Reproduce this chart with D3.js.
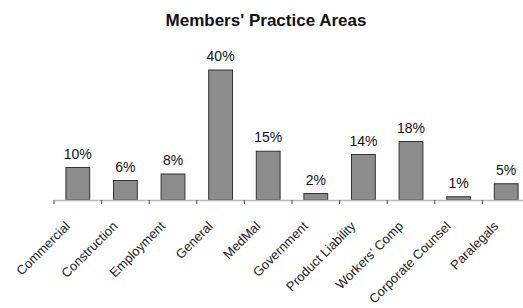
<!DOCTYPE html>
<html>
<head>
<meta charset="utf-8">
<script src="https://cdn.jsdelivr.net/npm/d3@7"></script>
<style>
  body { margin: 0; background: #fff; }
  svg { display: block; font-family: Arial, "Liberation Sans", sans-serif; }
</style>
</head>
<body>
<div id="chart"></div>
<script>
const categories = ["Commercial", "Construction", "Employment", "General", "MedMal",
  "Government", "Product Liability", "Workers' Comp", "Corporate Counsel", "Paralegals"];
const values = [10, 6, 8, 40, 15, 2, 14, 18, 1, 5];
const title = "Members' Practice Areas";

const width = 523, height = 308;
const axisY = 200;

const svg = d3.select("#chart").append("svg")
  .attr("width", width)
  .attr("height", height);

// --- scales ---
const x = d3.scaleBand()
  .domain(categories)
  .range([54, 530])
  .paddingInner(0.5)
  .paddingOuter(0.25);

const y = d3.scaleLinear()
  .domain([0, 40])
  .range([axisY, 70]);

// --- title ---
svg.append("text")
  .attr("x", 266)
  .attr("y", 26)
  .attr("text-anchor", "middle")
  .style("font-size", "17px")
  .style("font-weight", "bold")
  .style("fill", "#111")
  .text(title);

// --- bars ---
svg.selectAll(".bar")
  .data(values)
  .enter()
  .append("rect")
  .attr("class", "bar")
  .attr("x", (d, i) => x(categories[i]))
  .attr("y", d => y(d))
  .attr("width", x.bandwidth())
  .attr("height", d => axisY - y(d))
  .attr("fill", "#8c8c8c")
  .attr("stroke", "#333")
  .attr("stroke-width", 1);

// --- value labels ---
svg.selectAll(".val")
  .data(values)
  .enter()
  .append("text")
  .attr("class", "val")
  .attr("x", (d, i) => x(categories[i]) + x.bandwidth() / 2)
  .attr("y", d => y(d) - 9)
  .attr("text-anchor", "middle")
  .style("font-size", "14px")
  .style("fill", "#111")
  .text(d => d + "%");

// --- axis ---
const xAxis = d3.axisBottom(x).tickSize(0).tickFormat("");
const axisG = svg.append("g")
  .attr("transform", `translate(0,${axisY})`)
  .call(xAxis);
axisG.select(".domain").attr("stroke", "#bbb").attr("stroke-width", 1.5);

// ticks sit between the categories
const step = x.step();
const boundaries = categories.map((c, i) => 54 + i * step);
svg.selectAll(".tick-mark")
  .data(boundaries)
  .enter()
  .append("line")
  .attr("class", "tick-mark")
  .attr("x1", d => d)
  .attr("x2", d => d)
  .attr("y1", axisY)
  .attr("y2", axisY + 4)
  .attr("stroke", "#444");

// --- category labels ---
svg.selectAll(".cat")
  .data(categories)
  .enter()
  .append("text")
  .attr("class", "cat")
  .attr("transform", d => `translate(${x(d) + x.bandwidth() / 2 - 7},${axisY + 27}) rotate(-45)`)
  .attr("text-anchor", "end")
  .style("font-size", "13px")
  .style("fill", "#222")
  .text(d => d);
</script>
</body>
</html>
